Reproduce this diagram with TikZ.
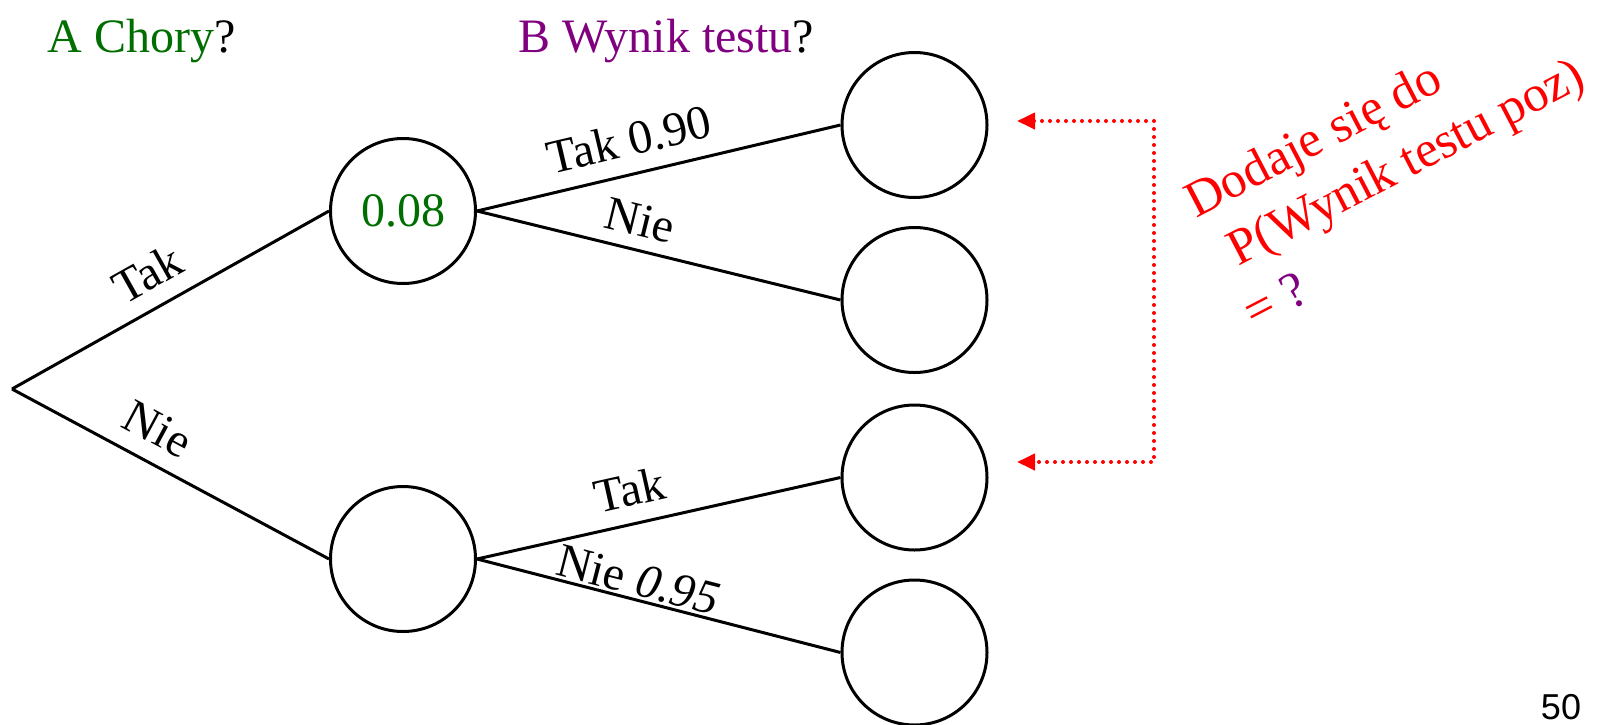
\documentclass[tikz,border=0pt]{standalone}
\usepackage{fontspec}
\setmainfont{Liberation Serif}
\newfontfamily\pagenumfont{Liberation Sans}
\usetikzlibrary{positioning,arrows.meta}
\definecolor{choryGreen}{RGB}{0,110,0}
\definecolor{testPurple}{RGB}{128,0,128}

\begin{document}
\begin{tikzpicture}[
  x=0.5pt, y=-0.5pt,
  font=\fontsize{24}{31}\selectfont,
  every node/.style={inner sep=2pt},
  chance/.style={
    circle, draw=black, line width=1.5pt,
    minimum size=72.5pt, inner sep=0pt,
  },
  branch/.style={draw=black, line width=1.5pt},
  blab/.style={sloped, above, inner sep=8pt, pos=0.43},
  title/.style={anchor=base west, inner sep=0pt},
  sumarr/.style={
    {Triangle[length=9pt,width=8pt]}-{Triangle[length=9pt,width=8pt]},
    red, line width=2pt, dash pattern=on 0pt off 4pt, line cap=round,
  },
]
\useasboundingbox (0,0) rectangle (1624,724);

%---------- column titles ----------
\node[title] (titleA) at (47,52) {\textcolor{choryGreen}{A Chory}?};
\node[title] (titleB) at (518,52) {\textcolor{testPurple}{B Wynik testu}?};

%---------- tree nodes ----------
\coordinate (root) at (12,389);
\node[chance, text=choryGreen] (sick) at (403,211) {0.08};
\node[chance] (healthy) at (403,559) {};

\node[chance] (sickpos)    at (914.5,125)   {};
\node[chance] (sickneg)    at (914.5,300)   {};
\node[chance] (healthypos) at (914.5,477.5) {};
\node[chance] (healthyneg) at (914.5,652.5) {};

%---------- branches ----------
\draw[branch] (root) -- node[blab, pos=0.48] {Tak} (sick.west);
\draw[branch] (root) -- node[blab, pos=0.41] {Nie} (healthy.west);
\draw[branch] (sick.east) -- node[blab, pos=0.44] {Tak 0.90} (sickpos.west);
\draw[branch] (sick.east) -- node[blab, inner sep=6pt] {Nie} (sickneg.west);
\draw[branch] (healthy.east) -- node[blab, pos=0.44] {Tak} (healthypos.west);
\draw[branch] (healthy.east) -- node[blab, inner sep=1pt] {Nie \textit{0.95}} (healthyneg.west);

%---------- sum note ----------
\coordinate (tipA)  at (1017,121);
\coordinate (bendA) at (1154,121);
\coordinate (bendB) at (1154,462);
\coordinate (tipB)  at (1017,462);
\draw[sumarr] (tipA) -- (bendA) -- (bendB) -- (tipB);

% anchored at the baseline of the last line
\node[red, rotate=27.5, anchor=base west, align=left, inner sep=0pt,
      font=\fontsize{25.5}{31.5}\selectfont] (note)
  at (1254,330)
  {Dodaje się do\\\hspace{0.3em}P(Wynik testu poz)\\= \textcolor{testPurple}{?}};

%---------- page number ----------
\node[font=\pagenumfont\fontsize{18}{22}\selectfont, anchor=base, inner sep=0pt]
  (pagenum) at (1561,719) {50};

\end{tikzpicture}
\end{document}
